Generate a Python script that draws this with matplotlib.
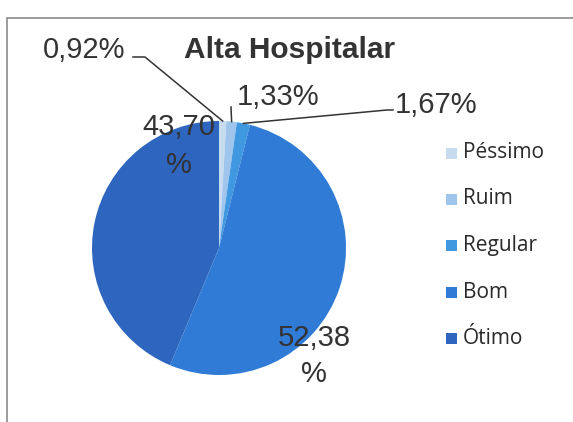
import numpy as np
import matplotlib
matplotlib.use("Agg")
import matplotlib.pyplot as plt
from matplotlib.patches import Rectangle
from matplotlib.lines import Line2D

categories = ["Péssimo", "Ruim", "Regular", "Bom", "Ótimo"]
values = [0.92, 1.33, 1.67, 52.38, 43.70]
labels = ["0,92%", "1,33%", "1,67%", "52,38\n%", "43,70\n%"]
colors = ["#c8dcf0", "#9fc5ec", "#3f98e0", "#2f7bd6", "#2d65bf"]
title = "Alta Hospitalar"

W, H = 573, 422
fig = plt.figure(figsize=(W / 100, H / 100), dpi=100)
fig.patch.set_facecolor("white")

def px(x, y):
    return x / W, 1 - y / H

# frame
fig.add_artist(Rectangle(px(7, 440), 700 / W, (440 - 18) / H, transform=fig.transFigure,
                         fill=False, edgecolor="#8a8a8a", lw=1.2))

cx, cy, r = 219, 248, 127
ax = fig.add_axes([(cx - r) / W, (H - cy - r) / H, 2 * r / W, 2 * r / H])
wedges, _ = ax.pie(values, colors=colors, startangle=90, counterclock=False,
                   radius=1, wedgeprops=dict(linewidth=0))
ax.set_xlim(-1, 1)
ax.set_ylim(-1, 1)
ax.set_aspect("auto")
ax.axis("off")

def to_data(x, y):
    return (x - cx) / r, (cy - y) / r

def wedge_pt(i, rr=1.0):
    w = wedges[i]
    a = np.deg2rad((w.theta1 + w.theta2) / 2)
    return rr * np.cos(a), rr * np.sin(a)

font = ["Liberation Sans", "DejaVu Sans"]
fs = 21
tc = "#333333"

# 0,92%
ax.text(*to_data(43, 58), labels[0], fontsize=fs, family=font, color=tc,
        ha="left", va="baseline", clip_on=False)
p = wedge_pt(0)
xs = [to_data(133, 57)[0], to_data(145, 57)[0], p[0]]
ys = [to_data(133, 57)[1], to_data(145, 57)[1], p[1]]
ax.add_line(Line2D(xs, ys, color="#333333", lw=1.1, clip_on=False))

# 1,33%
ax.text(*to_data(237, 105), labels[1], fontsize=fs, family=font, color=tc,
        ha="left", va="baseline", clip_on=False)
p = wedge_pt(1)
ax.add_line(Line2D([to_data(231, 107)[0], p[0]], [to_data(231, 107)[1], p[1]],
                   color="#333333", lw=1.1, clip_on=False))

# 1,67%
ax.text(*to_data(395, 113), labels[2], fontsize=fs, family=font, color=tc,
        ha="left", va="baseline", clip_on=False)
p = wedge_pt(2)
xs = [to_data(393, 110)[0], to_data(387, 110)[0], p[0]]
ys = [to_data(393, 110)[1], to_data(387, 110)[1], p[1]]
ax.add_line(Line2D(xs, ys, color="#333333", lw=1.1, clip_on=False))

# big labels
ax.text(*to_data(179, 146), labels[4], fontsize=fs, family=font, color=tc,
        ha="center", va="center", linespacing=1.45, clip_on=False)
ax.text(*to_data(314, 356), labels[3], fontsize=fs, family=font, color=tc,
        ha="center", va="center", linespacing=1.35, clip_on=False)

# title
fig.text(*px(290, 58), title, fontsize=21.5, family=font, fontweight="bold",
         color="#333333", ha="center", va="baseline")

# legend
leg_y = [153, 199, 245, 292, 338]
for cat, col, y in zip(categories, colors, leg_y):
    fig.add_artist(Rectangle(px(446, y + 6), 11 / W, 11 / H, transform=fig.transFigure,
                             facecolor=col, edgecolor="none"))
    fig.text(*px(463, y), cat, fontsize=15, family=["Open Sans", "DejaVu Sans"],
             color="#2a2a2a", ha="left", va="center")

fig.savefig("out.png", dpi=100)
